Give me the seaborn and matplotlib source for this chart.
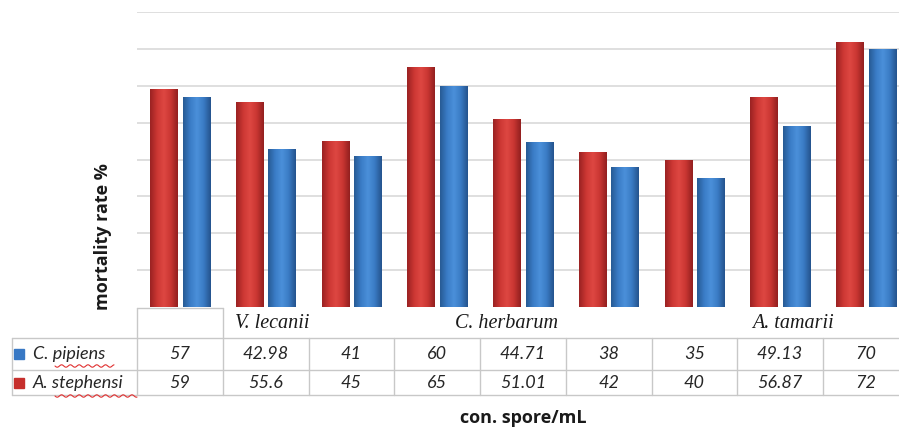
import numpy as np
import pandas as pd
import matplotlib
matplotlib.use("Agg")
import matplotlib.pyplot as plt
import matplotlib.transforms as mtransforms
from matplotlib.colors import LinearSegmentedColormap
from matplotlib.patches import Rectangle
from matplotlib.lines import Line2D
import seaborn as sns

columns = [1, 2, 3, 4, 5, 6, 7, 8, 9]
pipiens = [57, 42.98, 41, 60, 44.71, 38, 35, 49.13, 70]
stephensi = [59, 55.6, 45, 65, 51.01, 42, 40, 56.87, 72]
pipiens_text = ["57", "42.98", "41", "60", "44.71", "38", "35", "49.13", "70"]
stephensi_text = ["59", "55.6", "45", "65", "51.01", "42", "40", "56.87", "72"]
fungi = ["V. lecanii", "C. herbarum", "A. tamarii"]
fungi_x = [1.08, 3.81, 7.15]
series = ["A. stephensi", "C. pipiens"]
yticks = [10, 20, 30, 40, 50, 60, 70, 80]

df = pd.DataFrame({
    "column": columns * 2,
    "species": ["C. pipiens"] * 9 + ["A. stephensi"] * 9,
    "rate": pipiens + stephensi,
})

sns.set_theme(style="white")
plt.rcParams["font.family"] = ["Lato", "DejaVu Sans"]

W, H = 899, 430
fig = plt.figure(figsize=(W / 100, H / 100), dpi=100)
col_w = 85.75
ax = fig.add_axes([137 / W, (H - 307) / H, 9 * col_w / W, (307 - 12) / H])

red = "#C62F2C"
blue = "#3878C4"
sns.barplot(data=df, x="column", y="rate", hue="species", hue_order=series,
            palette=[red, blue], width=0.76, gap=0.17, legend=False,
            edgecolor="none", ax=ax, zorder=3)

# cylinder-like shading on each bar
red_cmap = LinearSegmentedColormap.from_list(
    "r", ["#9A2222", "#CC3733", "#DE4742", "#C93632", "#921F1F"])
blue_cmap = LinearSegmentedColormap.from_list(
    "b", ["#275A94", "#3A7CC6", "#4B90DA", "#3A7BC4", "#24538D"])
grad = np.linspace(0, 1, 64).reshape(1, -1)
for i, p in enumerate(list(ax.patches)):
    x0, y0 = p.get_x(), p.get_y()
    w, h = p.get_width(), p.get_height()
    if h <= 0:
        continue
    cmap = red_cmap if i < 9 else blue_cmap
    im = ax.imshow(grad, extent=[x0, x0 + w, y0, y0 + h], aspect="auto",
                   cmap=cmap, zorder=4, interpolation="bicubic")
    im.set_clip_path(p)

ax.set_xlim(-0.5, 8.5)
ax.set_ylim(0, 80)
ax.set_yticks(yticks)
ax.yaxis.grid(True, color="#D9D9D9", linewidth=1.2)
ax.set_axisbelow(True)
ax.set_yticklabels([])
ax.set_xticks([])
ax.set_xlabel("")
ax.set_ylabel("")
ax.tick_params(left=False, bottom=False)
for s in ax.spines.values():
    s.set_visible(False)

# data table under the bars
tr = mtransforms.blended_transform_factory(ax.transData, fig.transFigure)
def fy(py):
    return 1 - py / H
def dx(px):
    return -0.5 + (px - 137) / col_w

line_kw = dict(color="#C8C8C8", linewidth=1, transform=tr, clip_on=False)
left = dx(12)
for py in [338, 370, 395]:
    fig.add_artist(Line2D([left, 9], [fy(py), fy(py)], **line_kw))
fig.add_artist(Line2D([left, left], [fy(338), fy(395)], **line_kw))
for k in range(9):
    fig.add_artist(Line2D([k - 0.5, k - 0.5], [fy(338), fy(395)], **line_kw))
# empty header cell
fig.add_artist(Line2D([-0.5, 0.5], [fy(308), fy(308)], **line_kw))
fig.add_artist(Line2D([-0.5, -0.5], [fy(308), fy(338)], **line_kw))
fig.add_artist(Line2D([0.5, 0.5], [fy(308), fy(338)], **line_kw))

txt_kw = dict(transform=tr, fontsize=13, style="italic", color="#262626",
              ha="center", va="center", clip_on=False)
for i in range(9):
    fig.text(i, fy(354), pipiens_text[i], **txt_kw)
    fig.text(i, fy(383), stephensi_text[i], **txt_kw)

for name, xpos in zip(fungi, fungi_x):
    fig.text(xpos, fy(323), name, transform=tr, fontsize=14.5, style="italic",
             family=["Liberation Serif", "DejaVu Serif"], color="#1a1a1a",
             ha="center", va="center")

# row labels with colour keys
for py, name, col in [(354, "C. pipiens", blue), (383, "A. stephensi", red)]:
    fig.add_artist(Rectangle((14 / W, fy(py + 5)), 10 / W, 10 / H,
                             transform=fig.transFigure, color=col))
    fig.text(33 / W, fy(py), name, fontsize=13, style="italic",
             color="#262626", ha="left", va="center")

# spell-check squiggles
for x0, x1, py in [(55, 114, 366), (55, 137, 396)]:
    xs = np.linspace(x0, x1, 120)
    ys = py + 1.2 * np.sin((xs - x0) / 1.4)
    fig.add_artist(Line2D(xs / W, 1 - ys / H, color="#E03030", linewidth=0.8,
                          transform=fig.transFigure))

fig.text(103 / W, fy(237), "mortality rate %", rotation=90, fontsize=13,
         fontweight="bold", family=["Open Sans", "DejaVu Sans"],
         color="#1a1a1a", ha="center", va="center")
fig.text(523 / W, fy(418), "con. spore/mL", fontsize=13, fontweight="bold",
         family=["Open Sans", "DejaVu Sans"], color="#1a1a1a",
         ha="center", va="center")

fig.savefig("out.png", dpi=100)
